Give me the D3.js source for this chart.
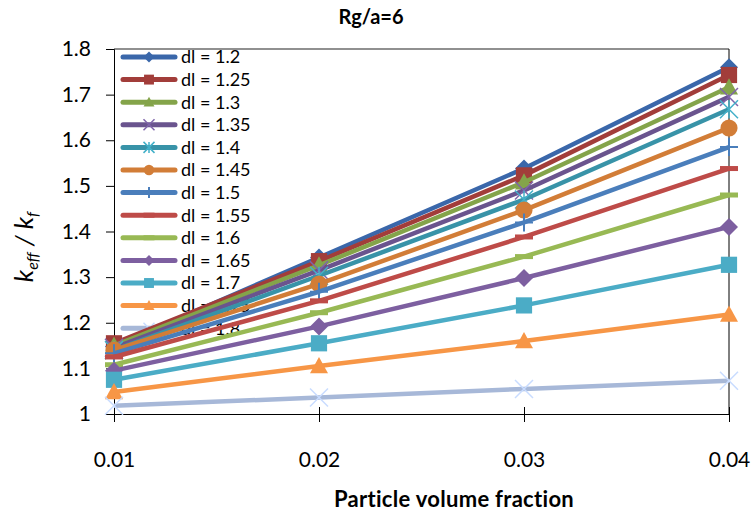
<!DOCTYPE html>
<html><head><meta charset="utf-8">
<script src="https://cdn.jsdelivr.net/npm/d3@7"></script>
<style>body{margin:0;background:#fff}svg{display:block}text{font-family:Lato,'Open Sans',sans-serif;fill:#000}</style>
</head><body><svg id="c" width="756" height="519"></svg>
<script>
// ---- data ----
const title = "Rg/a=6";
const xTitle = "Particle volume fraction";
const xValues = [0.01, 0.02, 0.03, 0.04];
const xTickLabels = ["0.01", "0.02", "0.03", "0.04"];
const yTicks = [1, 1.1, 1.2, 1.3, 1.4, 1.5, 1.6, 1.7, 1.8];
const seriesLabels = ["dl = 1.2","dl = 1.25","dl = 1.3","dl = 1.35","dl = 1.4","dl = 1.45","dl = 1.5","dl = 1.55","dl = 1.6","dl = 1.65","dl = 1.7","dl = 1.75","dl = 1.8"];
const dl120 = [1.148, 1.343, 1.538, 1.760];
const dl125 = [1.155, 1.335, 1.523, 1.743];
const dl130 = [1.150, 1.326, 1.508, 1.716];
const dl135 = [1.145, 1.315, 1.490, 1.695];
const dl140 = [1.140, 1.303, 1.470, 1.668];
const dl145 = [1.140, 1.285, 1.447, 1.627];
const dl150 = [1.133, 1.268, 1.420, 1.585];
const dl155 = [1.125, 1.248, 1.388, 1.538];
const dl160 = [1.108, 1.222, 1.345, 1.480];
const dl165 = [1.095, 1.192, 1.298, 1.410];
const dl170 = [1.075, 1.155, 1.238, 1.327];
const dl175 = [1.048, 1.105, 1.160, 1.218];
const dl180 = [1.018, 1.036, 1.055, 1.073];
const seriesValues = [dl120, dl125, dl130, dl135, dl140, dl145, dl150, dl155, dl160, dl165, dl170, dl175, dl180];
const seriesColors = ["#3A67AA","#A23D3A","#84A44A","#6A548E","#3893A8","#D27D37","#4A7EBB","#BE4B48","#98B954","#7D5FA0","#4BACC6","#F79646","#A7B8D8"];
const seriesMarkers = ["diamond","square","triangle","x","star","circle","plus","dash","dash","diamond","square","triangle","x"];

// ---- layout ----
const svg = d3.select("#c");
const x = d3.scaleLinear().domain([0.01, 0.04]).range([114, 729]);
const y = d3.scaleLinear().domain([1, 1.8]).range([414, 49]);

// titles
svg.append("text").attr("x", 371).attr("y", 24).attr("text-anchor","middle")
  .style("font-size","20px").style("font-weight","bold").text(title);
svg.append("text").attr("x", 454).attr("y", 507).attr("text-anchor","middle")
  .style("font-size","22px").style("font-weight","bold").style("letter-spacing","0.3px").text(xTitle);

// y title
const yt = svg.append("text").attr("transform","translate(33,247) rotate(-90)")
  .attr("text-anchor","middle").style("font-size","26px").style("font-style","italic");
yt.append("tspan").text("k");
yt.append("tspan").attr("dy", 5).style("font-size","16px").text("eff");
yt.append("tspan").attr("dy", -5).text(" / k");
yt.append("tspan").attr("dy", 5).style("font-size","16px").text("f");

// frame
svg.append("line").attr("x1", x(0.01)).attr("x2", x(0.04)).attr("y1", y(1.8)).attr("y2", y(1.8))
  .attr("stroke","#6b6b6b").attr("stroke-width",1.5);
svg.append("line").attr("x1", x(0.04)).attr("x2", x(0.04)).attr("y1", y(1.8)).attr("y2", y(1))
  .attr("stroke","#000").attr("stroke-width",1);

// axes
const yAxis = svg.append("g").attr("transform",`translate(${x(0.01)},0)`)
  .call(d3.axisLeft(y).tickValues(yTicks).tickSize(8).tickPadding(15)
    .tickFormat(d => d === 1 ? "1" : d3.format(".1f")(d)));
yAxis.select(".domain").attr("stroke","#000");
yAxis.selectAll("text").style("font-size","21px").attr("font-family",null);

const xAxis = svg.append("g").attr("transform",`translate(0,${y(1)})`)
  .call(d3.axisBottom(x).tickValues(xValues).tickSize(8).tickPadding(30)
    .tickFormat((d,i) => xTickLabels[i]));
xAxis.select(".domain").attr("stroke","#000");
xAxis.selectAll(".tick line").attr("y1", -7).attr("y2", 8);
xAxis.selectAll("text").style("font-size","21px").attr("font-family",null);

// marker drawer
function marker(g, type, cx, cy, s, color) {
  const h = s/2;
  if (type === "diamond") {
    g.append("path").attr("d",`M${cx},${cy-h}L${cx+h},${cy}L${cx},${cy+h}L${cx-h},${cy}Z`).attr("fill",color);
  } else if (type === "square") {
    g.append("rect").attr("x",cx-h*0.9).attr("y",cy-h*0.9).attr("width",s*0.9).attr("height",s*0.9).attr("fill",color);
  } else if (type === "triangle") {
    g.append("path").attr("d",`M${cx},${cy-h}L${cx+h},${cy+h*0.8}L${cx-h},${cy+h*0.8}Z`).attr("fill",color);
  } else if (type === "circle") {
    g.append("circle").attr("cx",cx).attr("cy",cy).attr("r",h*0.95).attr("fill",color);
  } else if (type === "x" || type === "star") {
    const c = d3.color(color).brighter(0.5);
    g.append("path").attr("d",`M${cx-h},${cy-h}L${cx+h},${cy+h}M${cx-h},${cy+h}L${cx+h},${cy-h}`)
      .attr("stroke",c).attr("stroke-width",1.5).attr("fill","none");
    if (type === "star") g.append("path").attr("d",`M${cx},${cy-h}L${cx},${cy+h}`)
      .attr("stroke",c).attr("stroke-width",1.5);
  } else if (type === "plus") {
    g.append("path").attr("d",`M${cx},${cy-h}L${cx},${cy+h}M${cx-h},${cy}L${cx+h},${cy}`)
      .attr("stroke",color).attr("stroke-width",2);
  } else if (type === "dash") {
    g.append("rect").attr("x",cx-h).attr("y",cy-2.5).attr("width",s).attr("height",5).attr("fill",color);
  }
}

// legend (drawn under the series)
const lg = svg.append("g");
seriesLabels.forEach((lab, i) => {
  const ly = 57 + i * 22.6;
  lg.append("line").attr("x1",123).attr("x2",175).attr("y1",ly).attr("y2",ly)
    .attr("stroke",seriesColors[i]).attr("stroke-width",5).attr("stroke-linecap","round");
  marker(lg, seriesMarkers[i], 149, ly, 11, seriesColors[i]);
  lg.append("text").attr("x",181).attr("y",ly).attr("dy","0.35em").style("font-size","18px").text(lab);
});

// series
const line = d3.line().x((d,i) => x(xValues[i])).y(d => y(d));
const sg = svg.append("g");
seriesValues.forEach((vals, i) => {
  const g = sg.append("g");
  g.append("path").datum(vals).attr("d", line).attr("fill","none")
    .attr("stroke", seriesColors[i]).attr("stroke-width", 4.5).attr("stroke-linejoin","round");
  vals.forEach((v, j) => marker(g, seriesMarkers[i], x(xValues[j]), y(v), 18, seriesColors[i]));
});
</script></body></html>
